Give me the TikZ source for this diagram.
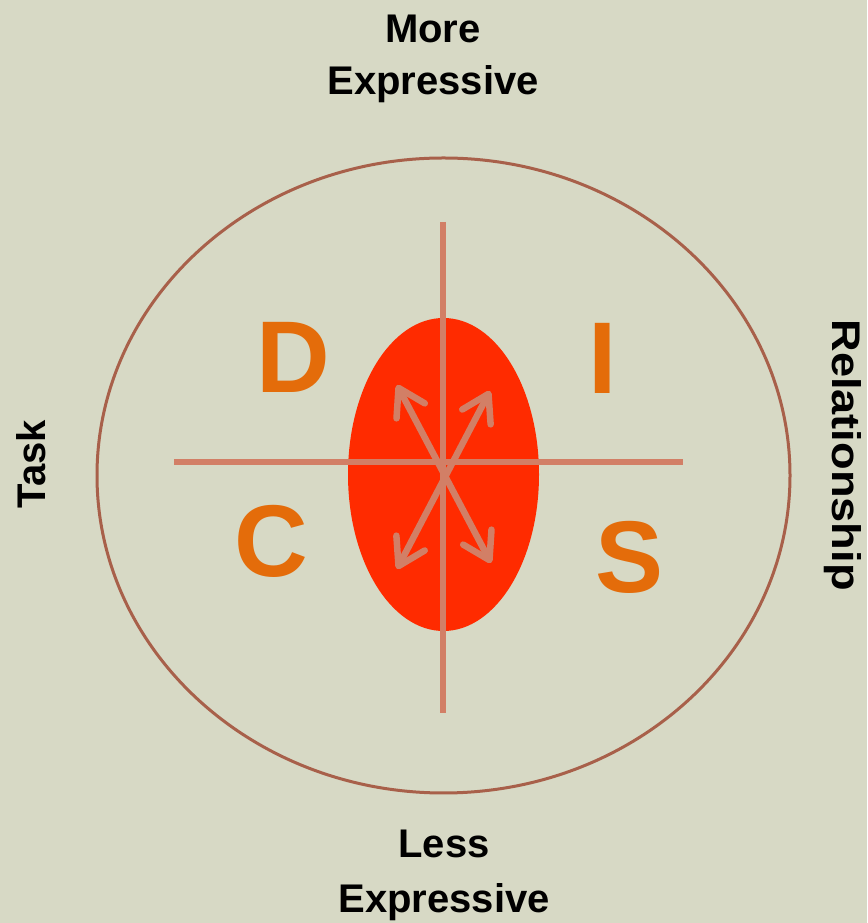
\documentclass[tikz,border=0pt]{standalone}
\usepackage{fontspec}
\setmainfont{Liberation Sans}
\usetikzlibrary{arrows.meta}
\definecolor{bgc}{HTML}{D7D9C5}
\definecolor{rimc}{HTML}{A8604A}
\definecolor{axisc}{HTML}{D27F66}
\definecolor{corec}{HTML}{FF2B00}
\definecolor{letterc}{HTML}{E46C0A}
\tikzset{
  axisline/.style={draw=axisc, line width=6pt},
  dirarrow/.style={draw=axisc, line width=6.5pt, line cap=round,
    {Straight Barb[length=26pt, width=32pt, round]}-{Straight Barb[length=26pt, width=32pt, round]}},
  label/.style={font=\bfseries\fontsize{40}{48}\selectfont, text=black, inner sep=0pt, anchor=base},
  quad/.style={font=\bfseries\fontsize{102}{110}\selectfont, text=letterc, inner sep=0pt, anchor=base}
}
\begin{document}
\begin{tikzpicture}[x=1pt,y=1pt]
\fill[bgc] (0,0) rectangle (867,923);
\useasboundingbox (0,0) rectangle (867,923);
% outer ellipse and core
\draw[rimc, line width=3pt] (443.5,447.5) ellipse [x radius=346.5, y radius=317.5];
\fill[corec] (443.5,448.5) ellipse [x radius=95.5, y radius=156.5];
% axes
\coordinate (top) at (443,701);
\coordinate (bot) at (443,210);
\coordinate (lft) at (174,461);
\coordinate (rgt) at (683,461);
\draw[axisline] (top) -- (bot);
\draw[axisline] (lft) -- (rgt);
% arrows
\coordinate (ul) at (397,538);
\coordinate (lr) at (491,360);
\coordinate (ur) at (490,532);
\coordinate (ll) at (397,354);
\draw[dirarrow] (ul) -- (lr);
\draw[dirarrow] (ll) -- (ur);
% letters
\node[quad] (D) at (293.5,530) {D};
\node[quad] (I) at (603,529) {I};
\node[quad] (C) at (271,346) {C};
\node[quad] (S) at (629.5,330) {S};
% labels
\node[label] (more) at (433,880) {More};
\node[label] (moreexp) at (433,828) {Expressive};
\node[label] (less) at (444,65) {Less};
\node[label] (lessexp) at (444,10) {Expressive};
\node[label, rotate=90] (task) at (45,459) {Task};
\node[label, rotate=-90] (rel) at (832,468) {\scalebox{1.13}[1]{Relationship}};
\end{tikzpicture}
\end{document}
